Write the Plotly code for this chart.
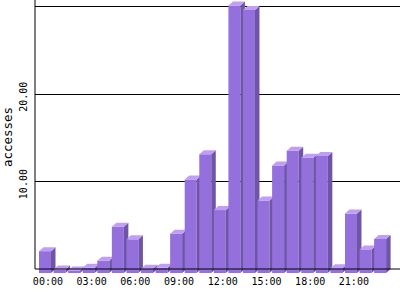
import plotly.graph_objects as go

# ---- data ----
hours = [f"{h:02d}:00" for h in range(24)]
accesses = [2.5, 0.4, 0.3, 0.6, 1.4, 5.3, 3.85, 0.5, 0.6, 4.5, 10.7, 13.6,
            7.2, 30.6, 30.1, 8.3, 12.3, 14.0, 13.2, 13.4, 0.55, 6.8, 2.7, 3.9]
x_tick_labels = ["00:00", "03:00", "06:00", "09:00", "12:00", "15:00", "18:00", "21:00"]
y_tick_vals = [10, 20, 30]
y_tick_text = ["10.00", "20.00", ""]

# ---- styling / geometry ----
W, H = 400, 300
ML, MB = 35, 26
px_per_cat = 14.57
px_per_unit = 8.74
x_range = [-10 / px_per_cat, -10 / px_per_cat + (W - ML) / px_per_cat]
y_range = [-(5 / px_per_unit), 269 / px_per_unit]

fw = 12 / px_per_cat        # front face width
dx = 4.5 / px_per_cat       # depth in x
dy = 4.0 / px_per_unit      # depth in y

FRONT = "#9370DB"
TOP = "#C29CFB"
SIDE = "#6E55A8"

fig = go.Figure()
for i, v in enumerate(accesses):
    x0, x1 = i - fw / 2, i + fw / 2
    faces = [
        ([x0, x1, x1, x0, x0], [-dy, -dy, v - dy, v - dy, -dy], FRONT),
        ([x1, x1 + dx, x1 + dx, x1, x1], [-dy, 0, v, v - dy, -dy], SIDE),
        ([x0, x1, x1 + dx, x0 + dx, x0], [v - dy, v - dy, v, v, v - dy], TOP),
    ]
    for xs, ys, col in faces:
        fig.add_trace(go.Scatter(x=xs, y=ys, mode="lines", fill="toself",
                                 fillcolor=col, line=dict(width=0, color=col),
                                 hoverinfo="skip", showlegend=False))

tick_pos = [hours.index(t) + 0.2 for t in x_tick_labels]

fig.update_layout(
    width=W, height=H, autosize=False,
    margin=dict(l=ML, r=0, t=0, b=MB, pad=0),
    paper_bgcolor="white", plot_bgcolor="white",
    font=dict(family="DejaVu Sans Mono", size=10, color="black"),
    xaxis=dict(range=x_range, tickvals=tick_pos, ticktext=x_tick_labels,
               showgrid=False, zeroline=False, showline=False, ticks="",
               tickfont=dict(size=10), fixedrange=True),
    yaxis=dict(range=y_range, tickvals=y_tick_vals, ticktext=y_tick_text,
               showgrid=True, gridcolor="black", gridwidth=1,
               zeroline=False, showline=False, ticks="", tickangle=-90,
               ticklabelstandoff=5, ticklabelshift=4,
               tickfont=dict(size=10),
               title=dict(text="accesses", font=dict(size=12.5), standoff=2),
               fixedrange=True),
    shapes=[
        dict(type="line", xref="paper", yref="y", x0=0, x1=1, y0=0, y1=0,
             line=dict(color="black", width=1), layer="above"),
        dict(type="line", xref="paper", yref="y", x0=0, x1=0, y0=0, y1=y_range[1],
             line=dict(color="black", width=1), layer="above"),
    ],
)

fig.write_html("out.html")
